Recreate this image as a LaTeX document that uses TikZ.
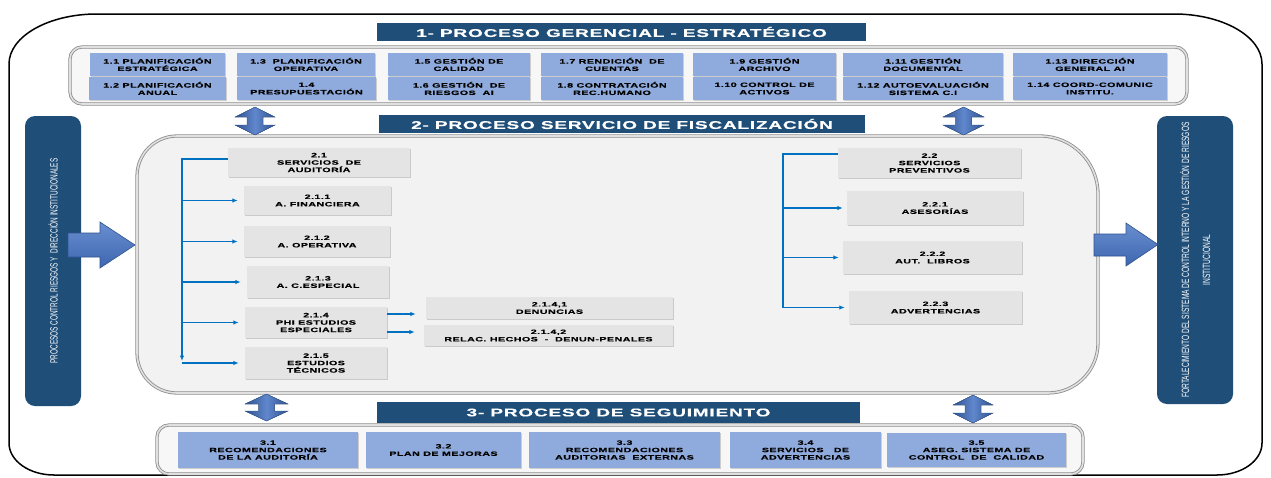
\documentclass[tikz,border=0pt]{standalone}
\usepackage{fontspec}
\setmainfont{Liberation Sans}
\newfontfamily\boxfont[FakeStretch=1.7,LetterSpace=7,FakeBold=0.5]{Liberation Sans Bold}
\newfontfamily\narrowfontL[FakeStretch=0.61]{Liberation Sans}
\newfontfamily\narrowfontR[FakeStretch=0.63]{Liberation Sans}
\usetikzlibrary{arrows.meta,shadows}
\definecolor{navy}{HTML}{1F4E79}
\definecolor{lblue}{HTML}{8FAADC}
\definecolor{lgray}{HTML}{E4E4E4}
\definecolor{cblue}{HTML}{0070C0}
\definecolor{abl}{HTML}{4472C4}
\definecolor{abd}{HTML}{2F528F}
\newcommand\bx[7]{\node[#6, minimum width={(#4)-(#2)}, minimum height={(#5)-(#3)}] (#1) at ({((#2)+(#4))/2},{((#3)+(#5))/2}) {#7};}
\newcommand\dblarrow[4]{% cx, y1, y2, half width
  \fill[dblar] (#1,#2) -- ({#1+#4},{#2+10}) -- ({#1+8},{#2+10}) -- ({#1+8},{#3-10}) -- ({#1+#4},{#3-10}) -- (#1,#3)
    -- ({#1-#4},{#3-10}) -- ({#1-8},{#3-10}) -- ({#1-8},{#2+10}) -- ({#1-#4},{#2+10}) -- cycle;}
\begin{document}
\begin{tikzpicture}[x=1pt,y=-1pt,
  tbox/.style={fill=lblue, inner sep=0pt, align=center, font=\boxfont\fontsize{6.3}{7.4}\selectfont,
    drop shadow={shadow xshift=1.2pt, shadow yshift=-1.2pt, opacity=.35}},
  mbox/.style={tbox, fill=lgray},
  ttl/.style={fill=navy, text=white, inner sep=0pt, font=\boxfont\fontsize{11.2}{13}\selectfont},
  bar/.style={fill=navy, rounded corners=10pt, inner sep=0pt, text=white, align=center},
  cont/.style={draw=black!45, line width=.8pt, double=black!12, double distance=1.6pt},
  conn/.style={draw=cblue, line width=1.1pt},
  tip/.style={-{Latex[length=5.5pt,width=4.5pt]}},
  dblar/.style={left color=abd, right color=abd, middle color=abl!85!white, draw=abd, line width=.4pt},
  blockar/.style={top color=abl!80!white, bottom color=abl!90!black, draw=abd, line width=.6pt}
]
\useasboundingbox (0,0) rectangle (1271,477);
\fill[white] (0,0) rectangle (1271,477);
% outer frame
\draw[black, line width=1.5pt] (9,64) .. controls (9,36.4) and (48.4,14) .. (97,14) -- (1174,14)
  .. controls (1222.6,14) and (1262,36.4) .. (1262,64) -- (1262,443)
  .. controls (1262,460.7) and (1241.9,475) .. (1217,475) -- (54,475)
  .. controls (29.1,475) and (9,460.7) .. (9,443) -- cycle;
% containers
\draw[cont, fill=black!3, rounded corners=12pt] (70,47) rectangle (1187,104);
\draw[cont, fill=black!5] (137,260) [rounded corners=40pt] -- (137,136) [rounded corners=58pt] -- (1098,136)
  [rounded corners=50pt] -- (1098,393) [rounded corners=40pt] -- (137,393) -- cycle;
\draw[cont, fill=black!3, rounded corners=12pt] (157,425) rectangle (1083,474);
% titles
\bx{t1}{377}{23}{866}{41}{ttl}{1- PROCESO GERENCIAL - ESTRATÉGICO}
\bx{t2}{379}{115}{865}{133}{ttl}{2- PROCESO SERVICIO DE FISCALIZACIÓN}
\bx{t3}{377}{402}{860}{423}{ttl}{3- PROCESO DE SEGUIMIENTO}
% top boxes
\bx{n11}{90}{53}{225}{76}{tbox}{1.1 PLANIFICACIÓN\\ESTRATÉGICA}
\bx{n12}{89}{77}{226}{100}{tbox}{1.2 PLANIFICACIÓN\\ANUAL}
\bx{n13}{237}{53}{375}{76}{tbox}{1.3\ \ PLANIFICACIÓN\\OPERATIVA}
\bx{n14}{237}{77}{376}{100}{tbox}{1.4\\PRESUPUESTACIÓN}
\bx{n15}{388}{53}{530}{76}{tbox}{1.5 GESTIÓN DE\\CALIDAD}
\bx{n16}{388}{77}{530}{100}{tbox}{1.6 GESTIÓN\ \ DE\\RIESGOS\ \ AI}
\bx{n17}{541}{53}{683}{76}{tbox}{1.7 RENDICIÓN\ \ DE\\CUENTAS}
\bx{n18}{541}{77}{683}{100}{tbox}{1.8 CONTRATACIÓN\\REC.HUMANO}
\bx{n19}{693}{53}{836}{76}{tbox}{1.9 GESTIÓN\\ARCHIVO}
\bx{n110}{693}{77}{836}{100}{tbox}{1.10 CONTROL DE\\ACTIVOS}
\bx{n111}{843}{53}{1003}{76}{tbox}{1.11 GESTIÓN\\DOCUMENTAL}
\bx{n112}{843}{77}{1003}{100}{tbox}{1.12 AUTOEVALUACIÓN\\SISTEMA C.I}
\bx{n113}{1013}{53}{1167}{76}{tbox}{1.13 DIRECCIÓN\\GENERAL AI}
\bx{n114}{1013}{77}{1167}{100}{tbox}{1.14 COORD-COMUNIC\\INSTITU.}
% middle boxes
\bx{n21}{228}{148}{410}{177}{mbox}{2.1\\SERVICIOS\ \ DE\\AUDITORÍA}
\bx{n211}{244}{186}{391}{215}{mbox}{2.1.1\\A. FINANCIERA}
\bx{n212}{244}{226}{390}{257}{mbox}{2.1.2\\A. OPERATIVA}
\bx{n213}{247}{266}{389}{298}{mbox}{2.1.3\\A. C.ESPECIAL}
\bx{n214}{245}{307}{387}{338}{mbox}{2.1.4\\PHI ESTUDIOS\\ESPECIALES}
\bx{n215}{245}{347}{387}{379}{mbox}{2.1.5\\ESTUDIOS\\TÉCNICOS}
\bx{n2141}{426}{297}{673}{319}{mbox}{2.1.4,1\\DENUNCIAS}
\bx{n2142}{424}{325}{673}{346}{mbox}{2.1.4,2\\RELAC. HECHOS\ \ -\ \ DENUN-PENALES}
\bx{n22}{838}{148}{1021}{178}{mbox}{2.2\\SERVICIOS\\PREVENTIVOS}
\bx{n221}{847}{191}{1023}{225}{mbox}{2.2.1\\ASESORÍAS}
\bx{n222}{843}{241}{1022}{274}{mbox}{2.2.2\\AUT.\ \ LIBROS}
\bx{n223}{849}{291}{1022}{324}{mbox}{2.2.3\\ADVERTENCIAS}
% bottom boxes
\bx{n31}{178}{432}{358}{468}{tbox}{3.1\\RECOMENDACIONES\\DE LA AUDITORÍA}
\bx{n32}{366}{432}{521}{468}{tbox}{3.2\\PLAN DE MEJORAS}
\bx{n33}{529}{432}{720}{468}{tbox}{3.3\\RECOMENDACIONES\\AUDITORIAS\ \ EXTERNAS}
\bx{n34}{730}{432}{881}{468}{tbox}{3.4\\SERVICIOS\ \ \ DE\\ADVERTENCIAS}
\bx{n35}{887}{433}{1066}{467}{tbox}{3.5\\ASEG. SISTEMA DE\\CONTROL\ \ DE\ \ CALIDAD}
% side bars
\node[bar, rotate=90, minimum width=290pt, minimum height=56pt,
  font=\narrowfontL\fontsize{10.5}{12}\selectfont] (barL) at (53,261)
  {PROCESOS CONTROL RIESGOS Y\ \ DIRECCIÓN INSTITUCIONALES};
\node[bar, rotate=90, minimum width=288pt, minimum height=76pt,
  font=\narrowfontR\fontsize{10.5}{11}\selectfont] (barR) at (1195,260)
  {FORTALECIMIENTO DEL SISTEMA DE CONTROL INTERNO Y LA GESTIÓN DE RIESGOS\\[10pt]INSTITUCIONAL};
% connectors left
\coordinate (lspb) at (182,361);
\draw[conn, tip] ([yshift=3.5pt]n21.west) -| (lspb);
\foreach \b in {n211,n212,n213,n214,n215}
  \draw[conn, tip, shorten >=6pt] (lspb |- \b.west) -- (\b.west);
\coordinate (a1) at ([yshift=8.5pt]n214.east);
\coordinate (a2) at ([yshift=-9.5pt]n214.east);
\draw[conn, tip, shorten >=10pt] (a1) -- (a1 -| n2141.west);
\draw[conn, tip, shorten >=9pt] (a2) -- (a2 -| n2142.west);
% connectors right
\coordinate (r0) at ([yshift=9pt]n22.west);
\coordinate (rsp) at (783,0);
\draw[conn, tip, shorten >=4pt] (r0) -| (rsp |- n223.west) -- (n223.west);
\foreach \b in {n221,n222}
  \draw[conn, tip, shorten >=4pt] (rsp |- \b.west) -- (\b.west);
% block arrows
\draw[blockar] (68,233) -- (100,233) -- (100,222) -- (135,245) -- (100,268) -- (100,257) -- (68,257) -- cycle;
\draw[blockar] (1094,234) -- (1126,234) -- (1126,223) -- (1158,244.5) -- (1126,266) -- (1126,256) -- (1094,256) -- cycle;
% double arrows
\dblarrow{255}{107}{135}{20}
\dblarrow{963.5}{107}{135}{20.5}
\dblarrow{266.5}{394}{421}{21.5}
\dblarrow{973}{395}{423}{20}
\end{tikzpicture}
\end{document}
